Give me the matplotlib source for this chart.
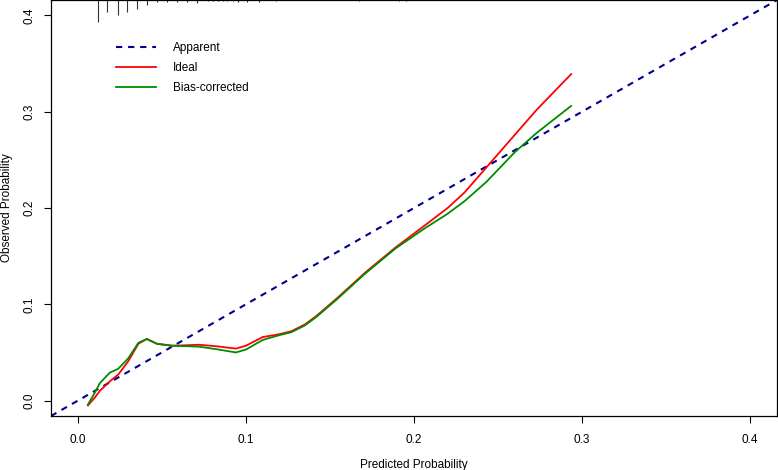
import matplotlib as mpl
mpl.use('Agg')
import matplotlib.pyplot as plt
import numpy as np

plt.rcParams['font.family'] = ['Liberation Sans', 'DejaVu Sans']

# calibration curves
pred = [0.006, 0.010, 0.013, 0.019, 0.024, 0.030, 0.036, 0.041, 0.047, 0.056,
        0.065, 0.072, 0.082, 0.094, 0.100, 0.110, 0.120, 0.127, 0.135, 0.142,
        0.154, 0.171, 0.189, 0.2065, 0.220, 0.230, 0.243, 0.260, 0.273, 0.2935]
ideal = [-0.005, 0.003, 0.010, 0.020, 0.027, 0.041, 0.059, 0.064, 0.059, 0.057,
         0.0575, 0.058, 0.0565, 0.054, 0.057, 0.066, 0.069, 0.072, 0.079, 0.088,
         0.106, 0.133, 0.159, 0.182, 0.200, 0.216, 0.242, 0.276, 0.302, 0.339]
bias_corr = [-0.004, 0.008, 0.018, 0.029, 0.033, 0.044, 0.060, 0.064, 0.059, 0.057,
             0.0565, 0.056, 0.0535, 0.050, 0.053, 0.063, 0.068, 0.071, 0.078, 0.087,
             0.105, 0.132, 0.158, 0.179, 0.194, 0.207, 0.227, 0.258, 0.278, 0.306]

# distribution of predictions (rug at top)
rug_x = [0.0117, 0.0176, 0.0236, 0.0295, 0.0354, 0.0414, 0.0473, 0.0532, 0.0592,
         0.0651, 0.0710, 0.0772, 0.0801, 0.0831, 0.0861, 0.0890, 0.0920, 0.0950,
         0.1009, 0.1080, 0.1181, 0.1674, 0.1911, 0.1953]
rug_n = [65, 36, 46, 36, 28, 14, 6, 7, 7, 7, 10, 4, 4, 4, 4, 4, 4, 7, 6, 6, 4, 4, 4, 4]

lim = (-0.016, 0.416)

fig = plt.figure(figsize=(7.78, 4.70), dpi=100)
ax = fig.add_axes([51 / 778, 54 / 470, 726 / 778, 416 / 470])

ax.plot(lim, lim, color='#00008B', lw=1.5, ls=(0, (3.0, 2.8)), label='Apparent')
ax.plot(pred, ideal, color='#FF0000', lw=1.3, label='Ideal')
ax.plot(pred, bias_corr, color='#008B00', lw=1.3, label='Bias-corrected')

rug_len = np.array(rug_n) / max(rug_n) * 0.0226
ax.vlines(rug_x, lim[1] - rug_len, lim[1], color='#333333', lw=0.8)

ax.set_xlim(lim)
ax.set_ylim(lim)
ticks = [0.0, 0.1, 0.2, 0.3, 0.4]
ax.set_xticks(ticks)
ax.set_yticks(ticks)
ax.set_xticklabels(['%.1f' % t for t in ticks])
ax.set_yticklabels(['%.1f' % t for t in ticks], rotation=90, va='center')
ax.tick_params(direction='out', length=5, width=0.8, labelsize=8.5)
ax.tick_params(axis='x', pad=8)
ax.tick_params(axis='y', pad=6)
for s in ax.spines.values():
    s.set_linewidth(0.9)

ax.set_xlabel('Predicted Probability', fontsize=8.5, labelpad=9)
ax.set_ylabel('Observed Probability', fontsize=8.5, labelpad=8)

ax.legend(loc='upper left', bbox_to_anchor=(0.075, 0.925), frameon=False,
          fontsize=8.5, handlelength=3.4, handletextpad=1.4, labelspacing=0.68)

fig.savefig('out.png', dpi=100)
